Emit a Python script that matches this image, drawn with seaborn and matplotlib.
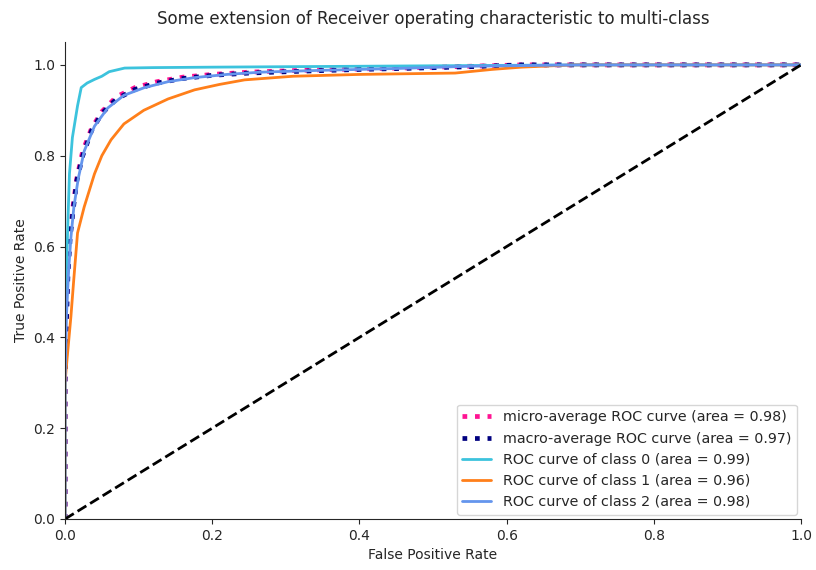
import numpy as np
import pandas as pd
import matplotlib
matplotlib.use("Agg")
import matplotlib.pyplot as plt
import seaborn as sns

# ---- data ----
fpr_micro = [0.0, 0.0, 0.002, 0.004, 0.007, 0.011, 0.016, 0.024, 0.036, 0.05, 0.07, 0.095, 0.125, 0.16, 0.2, 0.25, 0.32, 0.4, 0.48, 0.55, 0.62, 1.0]
tpr_micro = [0.0, 0.35, 0.47, 0.56, 0.63, 0.69, 0.75, 0.81, 0.86, 0.897, 0.93, 0.95, 0.963, 0.973, 0.979, 0.984, 0.988, 0.991, 0.994, 0.997, 1.0, 1.0]

fpr_macro = [0.0, 0.0, 0.002, 0.004, 0.007, 0.011, 0.016, 0.024, 0.036, 0.05, 0.07, 0.095, 0.125, 0.16, 0.2, 0.25, 0.32, 0.4, 0.48, 0.55, 0.62, 1.0]
tpr_macro = [0.0, 0.30, 0.44, 0.54, 0.62, 0.68, 0.745, 0.80, 0.855, 0.893, 0.925, 0.946, 0.96, 0.97, 0.977, 0.982, 0.986, 0.99, 0.993, 0.996, 1.0, 1.0]

fpr_c0 = [0.0, 0.0, 0.002, 0.004, 0.006, 0.01, 0.014, 0.017, 0.022, 0.03, 0.04, 0.05, 0.06, 0.081, 0.12, 0.2, 0.3, 0.5, 0.7, 1.0]
tpr_c0 = [0.0, 0.40, 0.55, 0.66, 0.76, 0.84, 0.88, 0.91, 0.95, 0.96, 0.968, 0.975, 0.985, 0.993, 0.994, 0.995, 0.996, 0.998, 1.0, 1.0]

fpr_c1 = [0.0, 0.0, 0.003, 0.008, 0.012, 0.017, 0.026, 0.04, 0.05, 0.0625, 0.08, 0.107, 0.14, 0.176, 0.21, 0.244, 0.31, 0.4, 0.53, 0.58, 0.62, 0.69, 1.0]
tpr_c1 = [0.0, 0.30, 0.357, 0.446, 0.53, 0.63, 0.687, 0.76, 0.80, 0.835, 0.87, 0.90, 0.925, 0.945, 0.957, 0.967, 0.975, 0.979, 0.982, 0.99, 0.995, 1.0, 1.0]

fpr_c2 = [0.0, 0.0, 0.002, 0.005, 0.008, 0.012, 0.018, 0.026, 0.04, 0.058, 0.08, 0.108, 0.14, 0.176, 0.22, 0.266, 0.348, 0.45, 0.55, 0.7, 1.0]
tpr_c2 = [0.0, 0.30, 0.45, 0.55, 0.62, 0.687, 0.75, 0.81, 0.865, 0.905, 0.933, 0.95, 0.963, 0.972, 0.979, 0.984, 0.988, 0.992, 0.997, 1.0, 1.0]

diag = [0.0, 1.0]

labels = [
    "micro-average ROC curve (area = 0.98)",
    "macro-average ROC curve (area = 0.97)",
    "ROC curve of class 0 (area = 0.99)",
    "ROC curve of class 1 (area = 0.96)",
    "ROC curve of class 2 (area = 0.98)",
]

sns.set_style("ticks")
plt.rcParams["font.family"] = ["DejaVu Sans"]

fig = plt.figure(figsize=(8.16, 5.70), dpi=100)
ax = fig.add_axes([0.0797, 0.0895, 0.902, 0.8365])

series = [
    (fpr_micro, tpr_micro, labels[0], "deeppink", ":", 3.4),
    (fpr_macro, tpr_macro, labels[1], "navy", ":", 3.4),
    (fpr_c0, tpr_c0, labels[2], "#3cc3dd", "-", 2),
    (fpr_c1, tpr_c1, labels[3], "#ff7f1a", "-", 2),
    (fpr_c2, tpr_c2, labels[4], "cornflowerblue", "-", 2),
]
for fx, ty, lab, col, ls, lw in series:
    df = pd.DataFrame({"fpr": fx, "tpr": ty})
    sns.lineplot(data=df, x="fpr", y="tpr", ax=ax, color=col, linestyle=ls,
                 linewidth=lw, label=lab, estimator=None, sort=False)

sns.lineplot(x=diag, y=diag, ax=ax, color="black", linestyle="--", linewidth=2,
             estimator=None, sort=False)

ax.set_xlim(0.0, 1.0)
ax.set_ylim(0.0, 1.05)
ax.set_xticks(np.arange(0, 1.01, 0.2))
ax.set_yticks(np.arange(0, 1.01, 0.2))
ax.set_xlabel("False Positive Rate")
ax.set_ylabel("True Positive Rate")
ax.set_title("Some extension of Receiver operating characteristic to multi-class", fontsize=12, pad=13)
sns.despine(ax=ax)
ax.legend(loc="lower right", fontsize=10.3, frameon=True, borderaxespad=0.3)

fig.savefig("out.png", dpi=100)
